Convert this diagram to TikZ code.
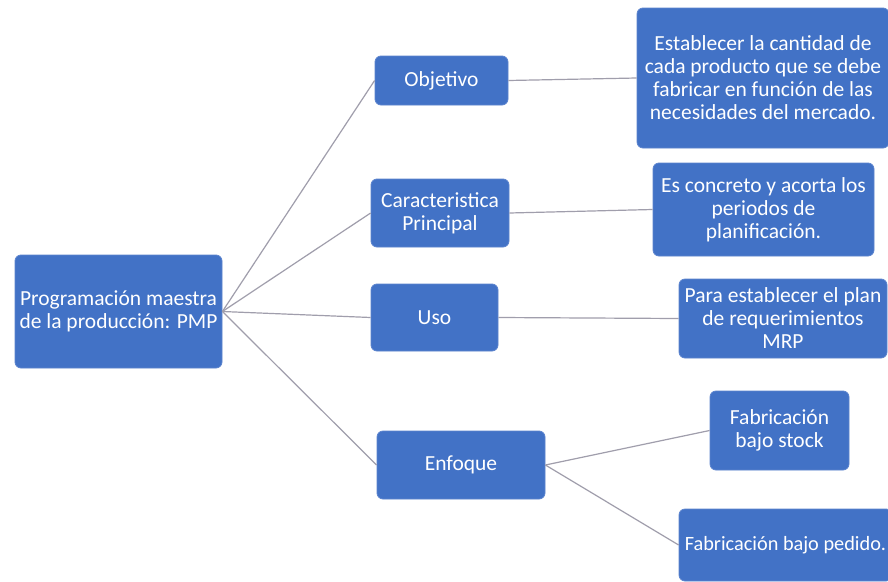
\documentclass[tikz,border=0pt]{standalone}
\usepackage{fontspec}
\setmainfont{Carlito}
\begin{document}
\begin{tikzpicture}[x=1pt,y=-1pt,
  box/.style={fill=boxblue, draw=boxedge, line width=0.8pt, rounded corners=6pt,
    text=white, align=center, inner sep=0pt,
    font=\fontsize{21.5}{23}\selectfont},
  link/.style={draw=linkgrey, line width=1.2pt}]
\definecolor{boxblue}{RGB}{66,114,198}
\definecolor{boxedge}{RGB}{92,132,206}
\definecolor{linkgrey}{RGB}{160,158,172}
\useasboundingbox[fill=white] (0,0) rectangle (888,581);

% root and first-level branches
\node[box, minimum width=207pt, minimum height=113pt] (root) at (118.5,311.5)
  {Programación maestra\\de la producción: PMP};
\node[box, minimum width=133pt, minimum height=49pt] (obj) at (441.5,80.5) {Objetivo};
\node[box, minimum width=138pt, minimum height=68pt] (car) at (440,213)
  {Caracteristica\\Principal};
\node[box, minimum width=127pt, minimum height=67pt] (uso) at (434.5,317.5) {Uso};
\node[box, minimum width=168pt, minimum height=68pt] (enf) at (461,465) {Enfoque};

% second-level leaves
\node[box, minimum width=252pt, minimum height=140pt] (est) at (763,78)
  {Establecer la cantidad de\\cada producto que se debe\\fabricar en función de las\\necesidades del mercado.};
\node[box, minimum width=221pt, minimum height=93pt] (con) at (763.5,209.5)
  {Es concreto y acorta los\\periodos de\\planificación.};
\node[box, minimum width=208pt, minimum height=79pt] (para) at (783,318.5)
  {Para establecer el plan\\de requerimientos\\MRP};
\node[box, minimum width=139pt, minimum height=79pt] (sto) at (779.5,430.5)
  {Fabricación\\bajo stock};
\node[box, minimum width=213pt, minimum height=72pt,
  font=\fontsize{20.3}{23}\selectfont] (ped) at (785.5,545)
  {Fabricación bajo pedido.};

% connectors
\draw[link] (root.east) -- (obj.west);
\draw[link] (root.east) -- (car.west);
\draw[link] (root.east) -- (uso.west);
\draw[link] (root.east) -- (enf.west);
\draw[link] (obj.east) -- (est.west);
\draw[link] (car.east) -- (con.west);
\draw[link] (uso.east) -- (para.west);
\draw[link] (enf.east) -- (sto.west);
\draw[link] (enf.east) -- (ped.west);
\end{tikzpicture}
\end{document}
